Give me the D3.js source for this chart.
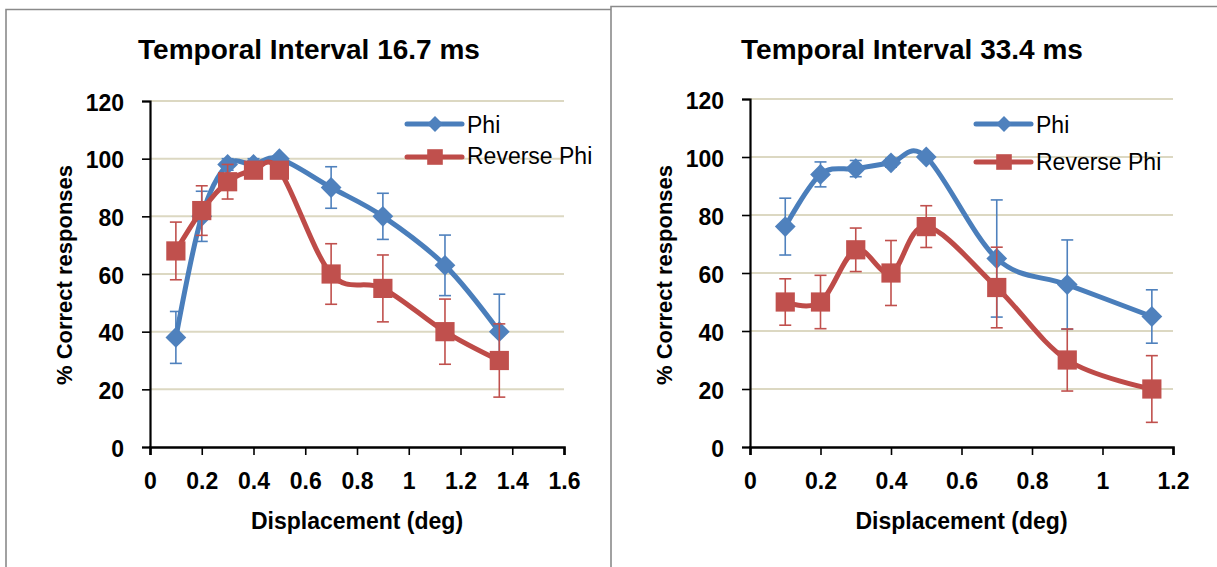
<!DOCTYPE html>
<html>
<head>
<meta charset="utf-8">
<script src="https://cdn.jsdelivr.net/npm/d3@7"></script>
<style>
  html, body { margin: 0; padding: 0; background: #fff; }
  svg { display: block; }
  text { font-family: "Liberation Sans", Arial, sans-serif; fill: #000; }
</style>
</head>
<body>
<svg id="chart" width="1217" height="567"></svg>
<script>
// ---------- data ----------
const titles = ["Temporal Interval 16.7 ms", "Temporal Interval 33.4 ms"];
const seriesNames = ["Phi", "Reverse Phi"];
const yLabel = "% Correct responses";
const xLabel = "Displacement (deg)";
const yTicks = [0, 20, 40, 60, 80, 100, 120];
const xTicksLeft = [0, 0.2, 0.4, 0.6, 0.8, 1, 1.2, 1.4, 1.6];
const xTicksRight = [0, 0.2, 0.4, 0.6, 0.8, 1, 1.2];

const xLeft = [0.1, 0.2, 0.3, 0.4, 0.5, 0.7, 0.9, 1.14, 1.35];
const phiLeft = [38, 80, 98, 98, 100, 90, 80, 63, 40];
const phiLeftErr = [9, 8.7, 2, 2, 1, 7.2, 8, 10.5, 13];
const revLeft = [68, 82, 92, 96, 96, 60, 55, 40, 30];
const revLeftErr = [10, 8.6, 6, 2, 1, 10.5, 11.6, 11.3, 12.7];

const xRight = [0.1, 0.2, 0.3, 0.4, 0.5, 0.7, 0.9, 1.14];
const phiRight = [76, 94, 96, 98, 100, 65, 56, 45];
const phiRightErr = [9.8, 4.3, 2.8, 1.5, 1, 20.2, 15.4, 9.2];
const revRight = [50, 50, 68, 60, 76, 55, 30, 20];
const revRightErr = [8, 9.2, 7.5, 11.2, 7.2, 13.9, 10.7, 11.5];

// ---------- styles ----------
const colors = { line: ["#4A7EBB", "#BE4B48"], marker: ["#4F81BD", "#C0504D"] };
const gridColor = "#DCD8C2";
const svg = d3.select("#chart");

// panel borders
svg.append("path")
  .attr("d", "M6,567 V9.5 H611 M611,567 V6.5 H1217")
  .attr("fill", "none").attr("stroke", "#8a8a8a").attr("stroke-width", 1.6);

function drawChart(cfg) {
  const x = d3.scaleLinear().domain(cfg.xDomain).range(cfg.xRange);
  const y = d3.scaleLinear().domain([0, 120]).range(cfg.yRange);
  const g = svg.append("g");

  // title
  g.append("text").attr("x", cfg.titleX).attr("y", 59)
    .attr("text-anchor", "middle").attr("font-size", 28).attr("font-weight", "bold")
    .text(cfg.title);

  // gridlines
  g.append("g").selectAll("line").data(yTicks.filter(d => d > 0)).join("line")
    .attr("x1", cfg.xRange[0]).attr("x2", cfg.xRange[1])
    .attr("y1", d => y(d)).attr("y2", d => y(d))
    .attr("stroke", gridColor).attr("stroke-width", 2);

  // y axis
  const yAxis = g.append("g").attr("transform", `translate(${cfg.xRange[0]},0)`)
    .call(d3.axisLeft(y).tickValues(yTicks).tickSize(8).tickPadding(18).tickFormat(d3.format("d")));
  yAxis.select(".domain").attr("stroke", "#000").attr("stroke-width", 2.2);
  yAxis.selectAll(".tick line").attr("stroke", "#000").attr("stroke-width", 1.6);
  yAxis.selectAll(".tick text").attr("font-size", 23).attr("font-weight", "bold")
    .attr("font-family", "Liberation Sans, Arial, sans-serif").attr("fill", "#000").attr("dy", "0.4em");

  // x axis
  const xAxis = g.append("g").attr("transform", `translate(0,${cfg.yRange[0]})`)
    .call(d3.axisBottom(x).tickValues(cfg.xTicks).tickSize(8).tickPadding(18).tickFormat(d => String(d)));
  xAxis.select(".domain").attr("stroke", "#000").attr("stroke-width", 2.6);
  xAxis.selectAll(".tick line").attr("stroke", "#000").attr("stroke-width", 1.6);
  xAxis.selectAll(".tick text").attr("font-size", 23).attr("font-weight", "bold")
    .attr("font-family", "Liberation Sans, Arial, sans-serif").attr("fill", "#000").attr("dy", "0.71em");

  // axis titles
  g.append("text").attr("transform", `translate(${cfg.xRange[0] - 78},275) rotate(-90)`)
    .attr("text-anchor", "middle").attr("font-size", 22).attr("font-weight", "bold").text(yLabel);
  g.append("text").attr("x", (cfg.xRange[0] + cfg.xRange[1]) / 2).attr("y", 529)
    .attr("text-anchor", "middle").attr("font-size", 23).attr("font-weight", "bold").text(xLabel);

  // series
  const line = d3.line().x(d => x(d.x)).y(d => y(d.y)).curve(d3.curveCardinal.tension(0));
  cfg.series.forEach((s, i) => {
    const pts = cfg.xs.map((xv, k) => ({ x: xv, y: s.values[k], e: s.err[k] }));
    const sg = g.append("g");
    // error bars
    const eb = sg.append("g").attr("stroke", colors.marker[i]).attr("stroke-width", 1.6);
    pts.forEach(p => {
      const cx = x(p.x);
      eb.append("line").attr("x1", cx).attr("x2", cx).attr("y1", y(p.y + p.e)).attr("y2", y(p.y - p.e));
      [p.y + p.e, p.y - p.e].forEach(v => eb.append("line")
        .attr("x1", cx - 6).attr("x2", cx + 6).attr("y1", y(v)).attr("y2", y(v)));
    });
    sg.append("path").datum(pts).attr("d", line).attr("fill", "none")
      .attr("stroke", colors.line[i]).attr("stroke-width", 5).attr("stroke-linejoin", "round").attr("stroke-linecap", "round");
    const sym = i === 0 ? d3.symbolDiamond2 : d3.symbolSquare2;
    const size = i === 0 ? 275 : 470;
    sg.selectAll(".m").data(pts).join("path")
      .attr("transform", d => `translate(${x(d.x)},${y(d.y)})`)
      .attr("d", d3.symbol(sym, size)).attr("fill", colors.marker[i]);
  });

  // legend
  const lg = g.append("g");
  cfg.legendRows.forEach((r, i) => {
    lg.append("line").attr("x1", cfg.legendX).attr("x2", cfg.legendX + 55)
      .attr("y1", r.ly).attr("y2", r.ly).attr("stroke", colors.line[i])
      .attr("stroke-width", 5).attr("stroke-linecap", "round");
    const sym = i === 0 ? d3.symbolDiamond2 : d3.symbolSquare2;
    lg.append("path").attr("transform", `translate(${cfg.legendX + 28},${r.ly})`)
      .attr("d", d3.symbol(sym, i === 0 ? 160 : 310)).attr("fill", colors.marker[i]);
    lg.append("text").attr("x", cfg.legendX + 60).attr("y", r.ty)
      .attr("font-size", 23).text(seriesNames[i]);
  });
}

drawChart({
  title: titles[0], titleX: 309,
  xDomain: [0, 1.6], xRange: [150, 564], yRange: [447, 101], xTicks: xTicksLeft,
  xs: xLeft,
  series: [{ values: phiLeft, err: phiLeftErr }, { values: revLeft, err: revLeftErr }],
  legendX: 407, legendRows: [{ ly: 124, ty: 133 }, { ly: 157, ty: 164 }]
});
drawChart({
  title: titles[1], titleX: 912,
  xDomain: [0, 1.2], xRange: [750, 1173], yRange: [447, 99], xTicks: xTicksRight,
  xs: xRight,
  series: [{ values: phiRight, err: phiRightErr }, { values: revRight, err: revRightErr }],
  legendX: 976, legendRows: [{ ly: 124, ty: 133 }, { ly: 162, ty: 170 }]
});
</script>
</body>
</html>
